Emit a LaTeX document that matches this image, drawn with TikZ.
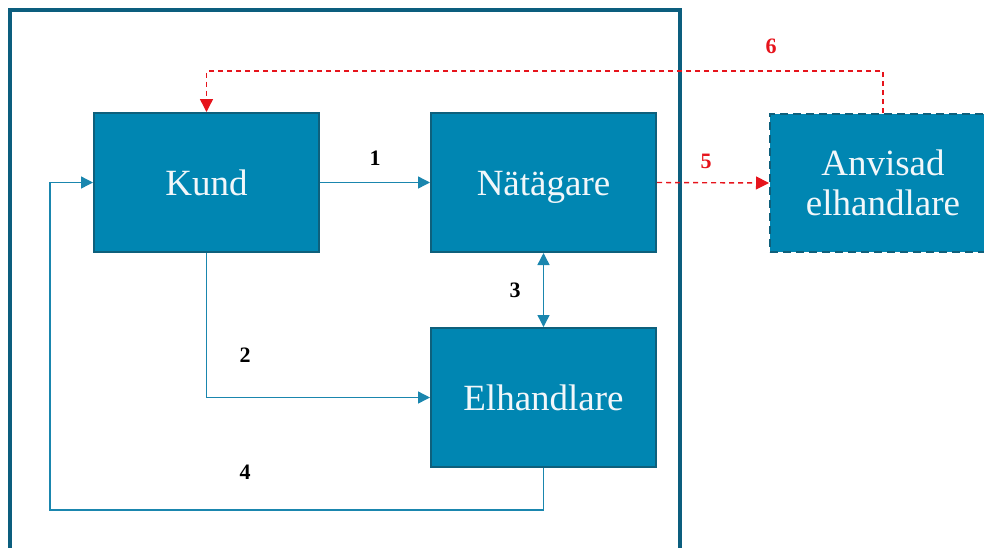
\documentclass[tikz,border=0pt]{standalone}
\usepackage{fontspec}
\setmainfont{Liberation Serif}
\usetikzlibrary{arrows.meta}
\definecolor{frameC}{RGB}{12,94,126}
\definecolor{boxFill}{RGB}{0,134,178}
\definecolor{boxLine}{RGB}{14,96,124}
\definecolor{conn}{RGB}{26,134,174}
\definecolor{redC}{RGB}{230,20,28}
\definecolor{txtC}{RGB}{242,247,250}
\tikzset{
  box/.style={draw=boxLine, line width=2pt, fill=boxFill, text=txtC,
    minimum width=225pt, minimum height=139pt, inner sep=0pt,
    font=\fontsize{37}{40}\selectfont, align=center},
  sbox/.style={box, text height=25pt, text depth=0pt},
  dbox/.style={box, dash pattern=on 8pt off 5pt},
  link/.style={draw=conn, line width=1.4pt},
  tipc/.style={-{Triangle[length=12pt,width=12pt]}},
  rlink/.style={draw=redC, line width=1.4pt, dash pattern=on 5pt off 4pt},
  tipr/.style={-{Triangle[length=13pt,width=13pt]}},
  num/.style={font=\fontsize{22}{24}\selectfont\bfseries, text=black, inner sep=0pt},
  rnum/.style={num, text=redC}
}
\begin{document}
\begin{tikzpicture}[x=1pt,y=-1pt]
\useasboundingbox (0,0) rectangle (984,547);
\begin{scope}
\clip (0,0) rectangle (984,547);
\draw[frameC, line width=4.5pt] (10,560) -- (10,10) -- (680,10) -- (680,560);
\node[sbox] (kund) at (206.5,182.5) {Kund};
\node[sbox] (nat) at (543.5,182.5) {Nätägare};
\node[sbox] (elh) at (543.5,397.5) {Elhandlare};
\node[dbox, minimum width=226pt, minimum height=138pt] (anv) at (883,183) {Anvisad\\elhandlare};
\coordinate (c4) at (50,510);
\coordinate (c6) at (500,71);
\draw[link, tipc] (kund.east) -- (nat.west);
\draw[link, tipc] (kund.south) |- (elh.west);
\draw[link, {Triangle[length=12pt,width=12pt]}-{Triangle[length=12pt,width=12pt]}] (nat.south) -- (elh.north);
\draw[link, tipc] (elh.south) |- (c4) |- (kund.west);
\draw[rlink, tipr] (nat.east) -- (anv.west);
\draw[rlink, tipr] (anv.north) |- (c6) -| (kund.north);
\node[num] (n1) at (375,158) {1};
\node[num] (n2) at (245,355) {2};
\node[num] (n3) at (515,290) {3};
\node[num] (n4) at (245,472) {4};
\node[rnum] (n5) at (706,161) {5};
\node[rnum] (n6) at (771,46) {6};
\end{scope}
\end{tikzpicture}
\end{document}
